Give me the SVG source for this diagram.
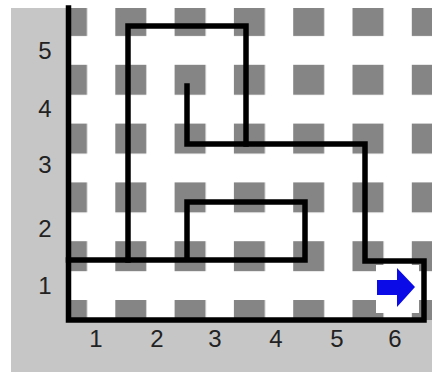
<svg xmlns="http://www.w3.org/2000/svg" width="432" height="374" viewBox="0 0 432 374">
  <style>
    .margin { fill: #c6c6c6; }
    .wall { fill: none; stroke: #000; stroke-width: 5.5; stroke-linejoin: miter; stroke-linecap: square; }
    .lbl { font-family: "Liberation Sans", Arial, sans-serif; font-size: 24px; fill: #222; text-anchor: middle; }
    .arrow { fill: #0b0be8; }
  </style>
  <defs>
    <pattern id="grid" patternUnits="userSpaceOnUse" x="56" y="6" width="59.3" height="58.8">
      <rect x="0" y="0" width="31" height="30" fill="#858585"/>
    </pattern>
  </defs>
  <rect x="0" y="0" width="432" height="374" fill="#ffffff"/>
  <g id="board">
    <rect x="68" y="8" width="364" height="312" fill="#ffffff"/>
    <rect x="68" y="8" width="364" height="312" fill="url(#grid)"/>
  </g>
  <g id="margins">
    <rect class="margin" x="11" y="8" width="57" height="364"/>
    <rect class="margin" x="11" y="320" width="421" height="52"/>
  </g>
  <g id="connectors">
    <polyline class="wall" points="68.5,8 68.5,320 424,320 424,261 365,261 365,144 187,144 187,86"/>
    <polyline class="wall" points="246,144 246,26 128,26 128,260"/>
    <polyline class="wall" points="68.5,260 305,260 305,202 187,202 187,260"/>
  </g>
  <g id="exit">
    <rect x="376" y="265" width="43" height="48" fill="#ffffff"/>
    <polygon class="arrow" points="377,280 397,280 397,268 415,287 397,307 397,295 377,295"/>
  </g>
  <g id="row-labels">
    <text class="lbl" x="45" y="59">5</text>
    <text class="lbl" x="45" y="117">4</text>
    <text class="lbl" x="45" y="173">3</text>
    <text class="lbl" x="45" y="237">2</text>
    <text class="lbl" x="45" y="294">1</text>
  </g>
  <g id="col-labels">
    <text class="lbl" x="96" y="347">1</text>
    <text class="lbl" x="157" y="347">2</text>
    <text class="lbl" x="215" y="347">3</text>
    <text class="lbl" x="276" y="347">4</text>
    <text class="lbl" x="337" y="347">5</text>
    <text class="lbl" x="395" y="347">6</text>
  </g>
</svg>
